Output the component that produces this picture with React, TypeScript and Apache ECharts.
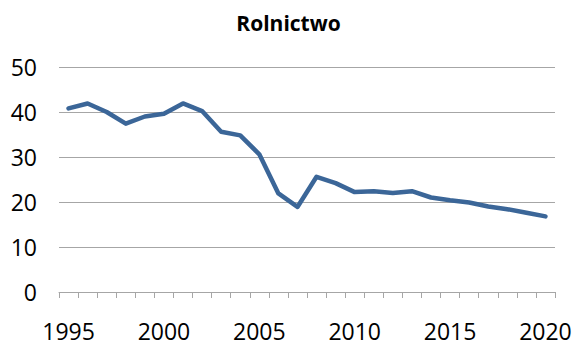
import React, { useEffect, useRef } from "react";
import * as echarts from "echarts";

const years = [
  "1995", "1996", "1997", "1998", "1999", "2000", "2001", "2002", "2003",
  "2004", "2005", "2006", "2007", "2008", "2009", "2010", "2011", "2012",
  "2013", "2014", "2015", "2016", "2017", "2018", "2019", "2020",
];
const rolnictwo = [
  40.8, 41.9, 40.0, 37.4, 39.0, 39.6, 41.9, 40.2, 35.6, 34.8, 30.6, 21.9,
  18.9, 25.6, 24.2, 22.2, 22.4, 22.0, 22.4, 21.0, 20.4, 19.9, 19.0, 18.4,
  17.6, 16.8,
];
const yTicks = { min: 0, max: 50, interval: 10 };
const title = "Rolnictwo";

export default function App() {
  const ref = useRef<HTMLDivElement>(null);
  useEffect(() => {
    if (!ref.current) return;
    const chart = echarts.init(ref.current, null, { renderer: "svg" });
    const font = "'Open Sans', 'Liberation Sans', sans-serif";
    chart.setOption({
      animation: false,
      title: {
        text: title,
        left: "center",
        top: 7,
        textStyle: { fontFamily: font, fontSize: 21, fontWeight: "bold", color: "#000" },
      },
      grid: { left: 59, right: 22, top: 67, bottom: 55, containLabel: false },
      xAxis: {
        type: "category",
        data: years,
        boundaryGap: true,
        axisLine: { show: true, lineStyle: { color: "#a6a6a6", width: 1 } },
        axisTick: { show: true, interval: 0, length: 6, alignWithLabel: false, lineStyle: { color: "#a6a6a6" } },
        axisLabel: { interval: 4, margin: 27, fontFamily: font, fontSize: 23, color: "#000" },
        splitLine: { show: false },
      },
      yAxis: {
        type: "value",
        min: yTicks.min,
        max: yTicks.max,
        interval: yTicks.interval,
        axisLine: { show: false },
        axisTick: { show: false },
        axisLabel: { margin: 22, fontFamily: font, fontSize: 23, color: "#000" },
        splitLine: { show: true, lineStyle: { color: "#a6a6a6", width: 1 } },
      },
      series: [
        {
          type: "line",
          data: rolnictwo,
          symbol: "none",
          lineStyle: { color: "#3b6698", width: 4.5, join: "round", cap: "round" },
          itemStyle: { color: "#3b6698" },
        },
      ],
    });
    return () => chart.dispose();
  }, []);
  return <div ref={ref} style={{ width: 577, height: 347, position: "absolute", left: 0, top: 0 }} />;
}
